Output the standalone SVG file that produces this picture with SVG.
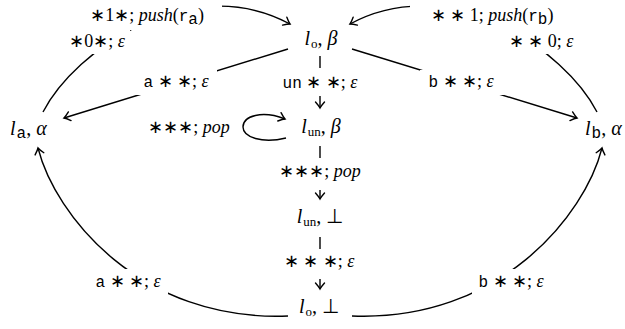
<svg xmlns="http://www.w3.org/2000/svg" width="625" height="329" viewBox="0 0 625 329">
<style>
text{font-size:18px;fill:#000;font-family:Liberation Serif}
.n{font-size:20px}
.i{font-style:italic}
.tt{font-size:16px;font-family:Liberation Mono}
.sub{font-size:13px}
.e{fill:none;stroke:#000;stroke-width:1.4;marker-end:url(#ah)}
.bg{fill:#fff}
</style>
<defs>
<marker id="ah" markerUnits="userSpaceOnUse" markerWidth="12" markerHeight="12" viewBox="-8 -6 10 12" refX="0" refY="0" orient="auto">
<path d="M-6,-4.5 Q-2,-1 0,0 Q-2,1 -6,4.5" fill="none" stroke="#000" stroke-width="1.4" stroke-linecap="round"/>
</marker>
</defs>
<g id="connectors">
<path class="e" d="M43,112 C75,50 190,-30 290,24"/>
<path class="e" d="M597,112 C565,50 450,-30 350,24"/>
<path class="e" d="M288,49 L64,118"/>
<path class="e" d="M352,49 L577,118"/>
<path class="e" d="M288,316 C140,322 55,215 38,148"/>
<path class="e" d="M352,316 C500,322 585,215 602,148"/>
<path class="e" d="M320,56 L320,108"/>
<path class="e" d="M320,146 L320,199"/>
<path class="e" d="M320,237 L320,289"/>
<path class="e" d="M286,138 C262,144 243,137 243,127 C243,116 262,110 285,119"/>
<rect class="bg" x="72" y="2" width="150" height="28"/>
<rect class="bg" x="63" y="30" width="67" height="24"/>
<rect class="bg" x="134" y="70" width="83" height="25"/>
<rect class="bg" x="273" y="68" width="94" height="28"/>
<rect class="bg" x="420" y="70" width="84" height="25"/>
<rect class="bg" x="410" y="2" width="162" height="28"/>
<rect class="bg" x="503" y="30" width="76" height="24"/>
<rect class="bg" x="272" y="158" width="96" height="32"/>
<rect class="bg" x="278" y="249" width="84" height="30"/>
<rect class="bg" x="88" y="269" width="80" height="29"/>
<rect class="bg" x="472" y="269" width="80" height="29"/>
<text x="147" y="21" text-anchor="middle">∗1∗; <tspan class="i">push</tspan>(<tspan class="tt">r</tspan><tspan class="tt" font-size="12" dy="3">a</tspan><tspan dy="-3">)</tspan></text>
<text x="97" y="47" text-anchor="middle">∗0∗; <tspan class="i">ε</tspan></text>
<text x="176" y="87" text-anchor="middle"><tspan class="tt">a</tspan> ∗ ∗; <tspan class="i">ε</tspan></text>
<text x="320" y="88" text-anchor="middle"><tspan class="tt">un</tspan> ∗ ∗; <tspan class="i">ε</tspan></text>
<text x="461" y="87" text-anchor="middle"><tspan class="tt">b</tspan> ∗ ∗; <tspan class="i">ε</tspan></text>
<text x="492" y="21" text-anchor="middle">∗ ∗ 1; <tspan class="i">push</tspan>(<tspan class="tt">r</tspan><tspan class="tt" font-size="12" dy="3">b</tspan><tspan dy="-3">)</tspan></text>
<text x="541" y="47" text-anchor="middle">∗ ∗ 0; <tspan class="i">ε</tspan></text>
<text x="189" y="133" text-anchor="middle">∗∗∗; <tspan class="i">pop</tspan></text>
<text x="320" y="177" text-anchor="middle">∗∗∗; <tspan class="i">pop</tspan></text>
<text x="319" y="267" text-anchor="middle">∗ ∗ ∗; <tspan class="i">ε</tspan></text>
<text x="128" y="287" text-anchor="middle"><tspan class="tt">a</tspan> ∗ ∗; <tspan class="i">ε</tspan></text>
<text x="511" y="287" text-anchor="middle"><tspan class="tt">b</tspan> ∗ ∗; <tspan class="i">ε</tspan></text>
</g>
<g id="n_lo_beta"><text class="n" x="321" y="45" text-anchor="middle"><tspan class="i">l</tspan><tspan class="sub" dx="1" dy="3">o</tspan><tspan dy="-3">,</tspan><tspan class="i" dx="5">β</tspan></text></g>
<g id="n_la_alpha"><text class="n" x="10" y="135"><tspan class="i">l</tspan><tspan class="tt" font-size="13" dx="1" dy="3">a</tspan><tspan dy="-3">,</tspan><tspan class="i" dx="5">α</tspan></text></g>
<g id="n_lb_alpha"><text class="n" x="585" y="135"><tspan class="i">l</tspan><tspan class="tt" font-size="13" dx="1" dy="3">b</tspan><tspan dy="-3">,</tspan><tspan class="i" dx="5">α</tspan></text></g>
<g id="n_lun_beta"><text class="n" x="321" y="133" text-anchor="middle"><tspan class="i">l</tspan><tspan class="sub" dx="1" dy="3">un</tspan><tspan dy="-3">,</tspan><tspan class="i" dx="5">β</tspan></text></g>
<g id="n_lun_bot"><text class="n" x="320" y="223" text-anchor="middle"><tspan class="i">l</tspan><tspan class="sub" dx="1" dy="3">un</tspan><tspan dy="-3">,</tspan><tspan dx="5">⊥</tspan></text></g>
<g id="n_lo_bot"><text class="n" x="319" y="313" text-anchor="middle"><tspan class="i">l</tspan><tspan class="sub" dx="1" dy="3">o</tspan><tspan dy="-3">,</tspan><tspan dx="5">⊥</tspan></text></g>
</svg>
